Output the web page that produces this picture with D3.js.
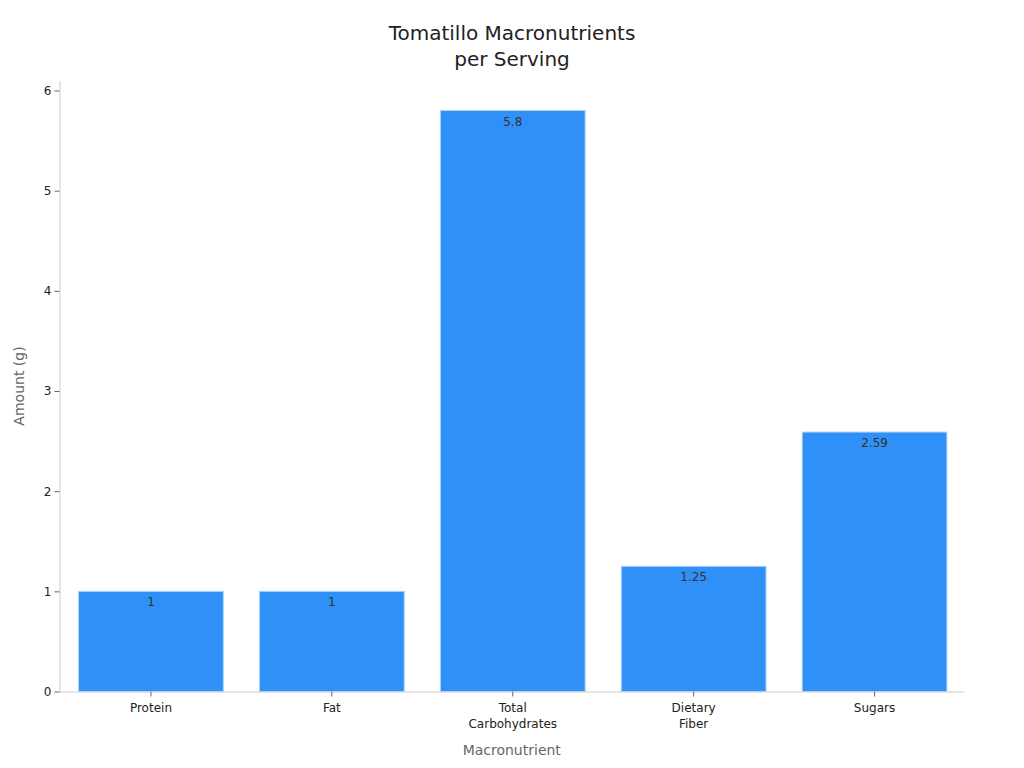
<!DOCTYPE html>
<html>
<head>
<meta charset="utf-8">
<script src="https://cdn.jsdelivr.net/npm/d3@7"></script>
<style>
  body { margin: 0; background: #fff; }
  svg, svg text { font-family: "DejaVu Sans", sans-serif; }
</style>
</head>
<body>
<svg id="chart"></svg>
<script>
var categories = ["Protein", "Fat", "Total\nCarbohydrates", "Dietary\nFiber", "Sugars"]
var amounts = [1, 1, 5.8, 1.25, 2.59]
var yTicks = [0, 1, 2, 3, 4, 5, 6]

var dimensions = {
    width: 1024,
    height: 768,
    margin: {
        top: 80.5,
        bottom: 76.5,
        right: 60,
        left: 59.5
    }
}

var data = categories.map((c, i) => ({ name: c, value: amounts[i] }))

var svg = d3.select("#chart")
            .attr("width", dimensions.width)
            .attr("height", dimensions.height)

var xScale = d3.scaleBand()
               .domain(categories)
               .range([dimensions.margin.left, dimensions.width - dimensions.margin.right])
               .paddingInner(0.2)
               .paddingOuter(0.1)

var yScale = d3.scaleLinear()
               .domain([0, 6.1])
               .range([dimensions.height - dimensions.margin.bottom, dimensions.margin.top])

// bars
svg.append("g")
   .selectAll("rect")
   .data(data)
   .enter()
   .append("rect")
   .attr("x", d => xScale(d.name) + 1)
   .attr("y", d => yScale(d.value))
   .attr("width", xScale.bandwidth())
   .attr("height", d => yScale(0) - yScale(d.value))
   .style("fill", "#2f91f7")
   .style("stroke", "#a9d3fb")
   .style("stroke-width", 1)

// value labels
svg.append("g")
   .selectAll("text")
   .data(data)
   .enter()
   .append("text")
   .attr("x", d => xScale(d.name) + 1 + xScale.bandwidth() / 2)
   .attr("y", d => yScale(d.value) + 15)
   .attr("text-anchor", "middle")
   .style("font-size", "12px")
   .style("fill", "#333")
   .text(d => d.value)

// axes
var xAxisgen = d3.axisBottom(xScale).tickSize(5).tickSizeOuter(0).tickPadding(4)
var yAxisgen = d3.axisLeft(yScale).tickValues(yTicks).tickFormat(d3.format("d")).tickSize(5).tickSizeOuter(0).tickPadding(3)

var xAxis = svg.append("g")
               .attr("transform", `translate(0,${dimensions.height - dimensions.margin.bottom})`)
               .call(xAxisgen)
               .attr("font-family", null)
xAxis.select(".domain").attr("stroke", "#ccc")
xAxis.selectAll(".tick line").attr("stroke", "#666").attr("transform", "translate(1,0)")
xAxis.selectAll(".tick text").remove()
xAxis.selectAll(".tick").append("text")
     .attr("fill", "#222")
     .attr("text-anchor", "middle")
     .style("font-size", "12px")
     .selectAll("tspan")
     .data(d => d.split("\n"))
     .enter()
     .append("tspan")
     .attr("x", 1)
     .attr("y", (d, i) => 20 + i * 16)
     .text(d => d)

var yAxis = svg.append("g")
               .attr("transform", `translate(${dimensions.margin.left},0)`)
               .call(yAxisgen)
               .attr("font-family", null)
yAxis.select(".domain").attr("stroke", "#ccc")
yAxis.selectAll(".tick line").attr("stroke", "#666")
yAxis.selectAll(".tick text").attr("fill", "#222").style("font-size", "12px")

// axis titles
svg.append("text")
   .attr("x", (dimensions.margin.left + dimensions.width - dimensions.margin.right) / 2)
   .attr("y", 755)
   .attr("text-anchor", "middle")
   .style("font-size", "14px")
   .style("fill", "#666")
   .text("Macronutrient")

svg.append("text")
   .attr("transform", `translate(24,${(dimensions.margin.top + dimensions.height - dimensions.margin.bottom) / 2}) rotate(-90)`)
   .attr("text-anchor", "middle")
   .style("font-size", "14px")
   .style("fill", "#666")
   .text("Amount (g)")

// title
var title = svg.append("text")
               .attr("text-anchor", "middle")
               .style("font-size", "20px")
               .style("fill", "#222")
title.append("tspan").attr("x", 512).attr("y", 40).text("Tomatillo Macronutrients")
title.append("tspan").attr("x", 512).attr("y", 66).text("per Serving")
</script>
</body>
</html>
